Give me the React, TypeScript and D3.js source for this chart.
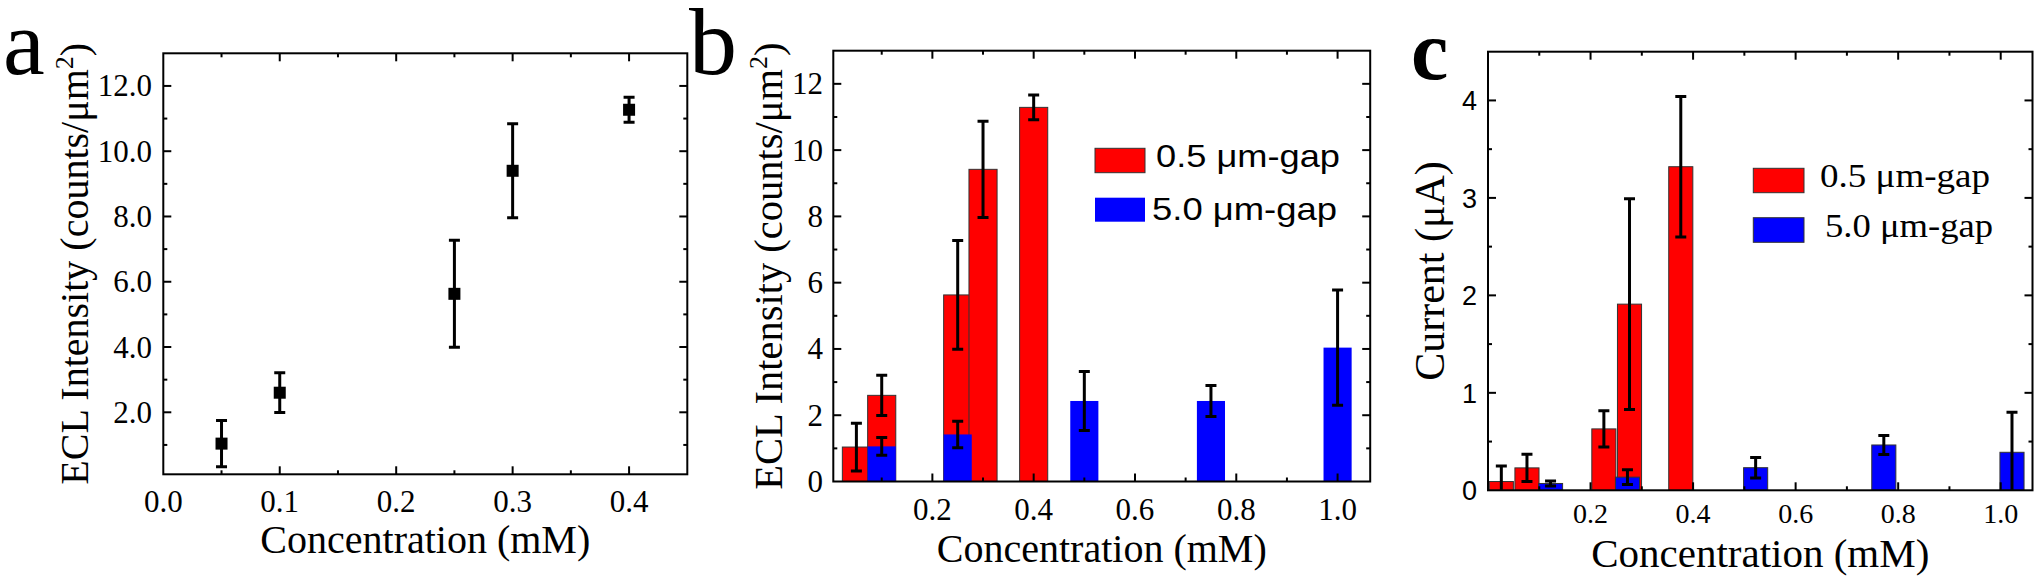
import React from "react";
import * as d3 from "d3";

const SERIF = "'Liberation Serif', 'Times New Roman', serif";
const SANS = "'Liberation Sans', Arial, sans-serif";
const RED = "#ff0000";
const BLUE = "#0000ff";

// ---------------- Data ----------------
// Panel a: ECL intensity vs concentration (0.5 um gap)
const concA = [0.05, 0.1, 0.25, 0.3, 0.4];
const eclA = [1.04, 2.6, 5.63, 9.4, 11.27];
const eclAErr = [0.71, 0.61, 1.64, 1.44, 0.38];

// Panel b: ECL intensity, two gaps
const concRed = [0.05, 0.1, 0.25, 0.3, 0.4];
const eclRed = [1.04, 2.6, 5.63, 9.42, 11.29];
const eclRedErr = [0.72, 0.61, 1.64, 1.45, 0.37];
const concBlue = [0.1, 0.25, 0.5, 0.75, 1.0];
const eclBlue = [1.06, 1.42, 2.43, 2.43, 4.04];
const eclBlueErr = [0.27, 0.4, 0.89, 0.47, 1.74];

// Panel c: current, two gaps
const curRed = [0.09, 0.23, 0.63, 1.91, 3.32];
const curRedErr = [0.16, 0.14, 0.185, 1.08, 0.72];
const curBlue = [0.07, 0.135, 0.232, 0.465, 0.39];
const curBlueErr = [0.025, 0.075, 0.105, 0.097, 0.41];

// Ticks and labels
const xTicksA = [0, 0.1, 0.2, 0.3, 0.4];
const yTicksA = [2, 4, 6, 8, 10, 12];
const xTicksBC = [0.2, 0.4, 0.6, 0.8, 1.0];
const yTicksB = [0, 2, 4, 6, 8, 10, 12];
const yTicksC = [0, 1, 2, 3, 4];
const legendLabels = ["0.5 \u03bcm-gap", "5.0 \u03bcm-gap"];
const xTitle = "Concentration (mM)";

// ---------------- Helpers ----------------
function Frame({ x, y, xMajor, xMinor, yMajor, yMinor }: any) {
  const [x0, x1] = x.range();
  const [y0, y1] = y.range();
  const out: any[] = [];
  const inX = (p: number) => p > x0 + 1.5 && p < x1 - 1.5;
  const inY = (p: number) => p < y0 - 1.5 && p > y1 + 1.5;
  const addX = (v: number, len: number, k: string) => {
    const p = x(v);
    if (!inX(p)) return;
    out.push(<line key={"xb" + k} x1={p} x2={p} y1={y0} y2={y0 - len} />);
    out.push(<line key={"xt" + k} x1={p} x2={p} y1={y1} y2={y1 + len} />);
  };
  const addY = (v: number, len: number, k: string) => {
    const p = y(v);
    if (!inY(p)) return;
    out.push(<line key={"yl" + k} x1={x0} x2={x0 + len} y1={p} y2={p} />);
    out.push(<line key={"yr" + k} x1={x1} x2={x1 - len} y1={p} y2={p} />);
  };
  xMajor.forEach((v: number, i: number) => addX(v, 8, "M" + i));
  xMinor.forEach((v: number, i: number) => addX(v, 4, "m" + i));
  yMajor.forEach((v: number, i: number) => addY(v, 8, "M" + i));
  yMinor.forEach((v: number, i: number) => addY(v, 4, "m" + i));
  return (
    <g stroke="#000" strokeWidth={2} fill="none">
      {out}
      <rect x={x0} y={y1} width={x1 - x0} height={y0 - y1} />
    </g>
  );
}

function ErrBar({ cx, lo, hi }: { cx: number; lo: number; hi: number }) {
  const w = 5.5;
  return (
    <g stroke="#000" strokeWidth={3}>
      <line x1={cx} x2={cx} y1={lo} y2={hi} />
      <line x1={cx - w} x2={cx + w} y1={lo} y2={lo} />
      <line x1={cx - w} x2={cx + w} y1={hi} y2={hi} />
    </g>
  );
}

function ClipDef({ id, x, y }: any) {
  const [x0, x1] = x.range();
  const [y0, y1] = y.range();
  return (
    <clipPath id={id}>
      <rect x={x0} y={y1} width={x1 - x0} height={y0 - y1} />
    </clipPath>
  );
}

// ---------------- Panels ----------------
function PanelA() {
  const x = d3.scaleLinear().domain([0, 0.45]).range([163.3, 687.3]);
  const y = d3.scaleLinear().domain([0.1, 13]).range([474.3, 53.3]);
  const fmt = d3.format(".1f");
  const xMinor = d3.range(0.05, 0.45, 0.1);
  const yMinor = d3.range(1, 13, 2);
  return (
    <g>
      <defs>
        <ClipDef id="clipA" x={x} y={y} />
      </defs>
      <g clipPath="url(#clipA)">
        {concA.map((c, i) => (
          <ErrBar key={"e" + i} cx={x(c)} lo={y(eclA[i] - eclAErr[i])} hi={y(eclA[i] + eclAErr[i])} />
        ))}
        {concA.map((c, i) => (
          <rect key={"m" + i} x={x(c) - 6} y={y(eclA[i]) - 6} width={12} height={12} fill="#000" />
        ))}
      </g>
      <Frame x={x} y={y} xMajor={xTicksA} xMinor={xMinor} yMajor={yTicksA} yMinor={yMinor} />
      <g fontFamily={SERIF} fontSize={31} fill="#000">
        {xTicksA.map((v) => (
          <text key={"xt" + v} x={x(v)} y={511.7} textAnchor="middle">{fmt(v)}</text>
        ))}
        {yTicksA.map((v) => (
          <text key={"yt" + v} x={152} y={y(v) + 10.5} textAnchor="end">{fmt(v)}</text>
        ))}
      </g>
      <text x={(163.3 + 687.3) / 2} y={553.3} textAnchor="middle" fontFamily={SERIF} fontSize={40}>{xTitle}</text>
      <text transform={`translate(88,${(53.3 + 474.3) / 2}) rotate(-90)`} textAnchor="middle" fontFamily={SERIF} fontSize={40}>
        ECL Intensity (counts/{"\u03bc"}m<tspan dy={-15} fontSize={26}>2</tspan><tspan dy={15}>)</tspan>
      </text>
      <text x={3} y={74} fontFamily={SERIF} fontSize={94}>a</text>
    </g>
  );
}

function PanelB() {
  const x = d3.scaleLinear().domain([0.0044, 1.0644]).range([833.3, 1370.2]);
  const y = d3.scaleLinear().domain([0, 13]).range([481.5, 50.7]);
  const bw = 0.0555;
  const xMinor = d3.range(0.1, 1.05, 0.2);
  const yMinor = d3.range(1, 13, 2);
  const barW = x(bw) - x(0);
  return (
    <g>
      <defs>
        <ClipDef id="clipB" x={x} y={y} />
      </defs>
      <g clipPath="url(#clipB)">
        {concRed.map((c, i) => (
          <rect key={"r" + i} x={x(c) - barW / 2} y={y(eclRed[i])} width={barW} height={y(0) - y(eclRed[i])} fill={RED} stroke="#333" strokeWidth={1} />
        ))}
        {concBlue.map((c, i) => (
          <rect key={"b" + i} x={x(c) - barW / 2} y={y(eclBlue[i])} width={barW} height={y(0) - y(eclBlue[i])} fill={BLUE} />
        ))}
        {concRed.map((c, i) => (
          <ErrBar key={"er" + i} cx={x(c)} lo={y(eclRed[i] - eclRedErr[i])} hi={y(eclRed[i] + eclRedErr[i])} />
        ))}
        {concBlue.map((c, i) => (
          <ErrBar key={"eb" + i} cx={x(c)} lo={y(eclBlue[i] - eclBlueErr[i])} hi={y(eclBlue[i] + eclBlueErr[i])} />
        ))}
      </g>
      <Frame x={x} y={y} xMajor={xTicksBC} xMinor={xMinor} yMajor={yTicksB} yMinor={yMinor} />
      <g fontFamily={SERIF} fontSize={31} fill="#000">
        {xTicksBC.map((v) => (
          <text key={"xt" + v} x={x(v)} y={520} textAnchor="middle">{d3.format(".1f")(v)}</text>
        ))}
        {yTicksB.map((v) => (
          <text key={"yt" + v} x={823} y={y(v) + 10.5} textAnchor="end">{String(v)}</text>
        ))}
      </g>
      {/* legend */}
      <rect x={1095} y={148.3} width={50} height={24.4} fill={RED} stroke="#333" strokeWidth={1} />
      <rect x={1095} y={197.7} width={50} height={24} fill={BLUE} />
      <g fontFamily={SANS} fontSize={32} fill="#000">
        <text x={1156} y={167.3} textLength={184} lengthAdjust="spacingAndGlyphs">{legendLabels[0]}</text>
        <text x={1152} y={220} textLength={185} lengthAdjust="spacingAndGlyphs">{legendLabels[1]}</text>
      </g>
      <text x={(833.3 + 1370.2) / 2} y={561.5} textAnchor="middle" fontFamily={SERIF} fontSize={40}>{xTitle}</text>
      <text transform={`translate(782,${(50.7 + 481.5) / 2}) rotate(-90)`} textAnchor="middle" fontFamily={SERIF} fontSize={40.5}>
        ECL Intensity (counts/{"\u03bc"}m<tspan dy={-15} fontSize={26}>2</tspan><tspan dy={15}>)</tspan>
      </text>
      <text x={689} y={74} fontFamily={SERIF} fontSize={96}>b</text>
    </g>
  );
}

function PanelC() {
  const x = d3.scaleLinear().domain([0, 1.062]).range([1488, 2032.5]);
  const y = d3.scaleLinear().domain([0, 4.5]).range([490.3, 51.7]);
  const bw = 0.047;
  const offR = -0.024;
  const offB = 0.022;
  const xMinor = d3.range(0.1, 1.05, 0.2);
  const yMinor = d3.range(0.5, 4.5, 1);
  const barW = x(bw) - x(0);
  return (
    <g>
      <defs>
        <ClipDef id="clipC" x={x} y={y} />
      </defs>
      <g clipPath="url(#clipC)">
        {concRed.map((c, i) => (
          <rect key={"r" + i} x={x(c + offR) - barW / 2} y={y(curRed[i])} width={barW} height={y(0) - y(curRed[i])} fill={RED} stroke="#333" strokeWidth={1} />
        ))}
        {concBlue.map((c, i) => (
          <rect key={"b" + i} x={x(c + offB) - barW / 2} y={y(curBlue[i])} width={barW} height={y(0) - y(curBlue[i])} fill={BLUE} stroke="#333" strokeWidth={1} />
        ))}
        {concRed.map((c, i) => (
          <ErrBar key={"er" + i} cx={x(c + offR)} lo={y(curRed[i] - curRedErr[i])} hi={y(curRed[i] + curRedErr[i])} />
        ))}
        {concBlue.map((c, i) => (
          <ErrBar key={"eb" + i} cx={x(c + offB)} lo={y(curBlue[i] - curBlueErr[i])} hi={y(curBlue[i] + curBlueErr[i])} />
        ))}
      </g>
      <Frame x={x} y={y} xMajor={xTicksBC} xMinor={xMinor} yMajor={yTicksC} yMinor={yMinor} />
      <g fontFamily={SERIF} fontSize={28} fill="#000">
        {xTicksBC.map((v) => (
          <text key={"xt" + v} x={x(v)} y={523} textAnchor="middle">{d3.format(".1f")(v)}</text>
        ))}
      </g>
      <g fontFamily={SANS} fontSize={27} fill="#000">
        {yTicksC.map((v) => (
          <text key={"yt" + v} x={1477} y={y(v) + 9.7} textAnchor="end">{String(v)}</text>
        ))}
      </g>
      {/* legend */}
      <rect x={1753.3} y={168.3} width={50.7} height={24.4} fill={RED} stroke="#333" strokeWidth={1} />
      <rect x={1753.3} y={217.7} width={50.7} height={24.6} fill={BLUE} stroke="#333" strokeWidth={1} />
      <g fontFamily={SERIF} fontSize={33} fill="#000">
        <text x={1820} y={186.7} textLength={170} lengthAdjust="spacingAndGlyphs">{legendLabels[0]}</text>
        <text x={1825} y={237.3} textLength={168} lengthAdjust="spacingAndGlyphs">{legendLabels[1]}</text>
      </g>
      <text x={(1488 + 2032.5) / 2} y={567} textAnchor="middle" fontFamily={SERIF} fontSize={41}>{xTitle}</text>
      <text transform={`translate(1444,${(51.7 + 490.3) / 2}) rotate(-90)`} textAnchor="middle" fontFamily={SERIF} fontSize={42}>
        Current ({"\u03bc"}A)
      </text>
      <text x={1411} y={79} fontFamily={SERIF} fontWeight="bold" fontSize={84}>c</text>
    </g>
  );
}

export default function App() {
  return (
    <div style={{ position: "absolute", left: 0, top: 0, width: 2040, height: 582, background: "#fff" }}>
      <svg width={2040} height={582} viewBox="0 0 2040 582" style={{ display: "block" }}>
        <rect x={0} y={0} width={2040} height={582} fill="#fff" />
        <PanelA />
        <PanelB />
        <PanelC />
      </svg>
    </div>
  );
}
